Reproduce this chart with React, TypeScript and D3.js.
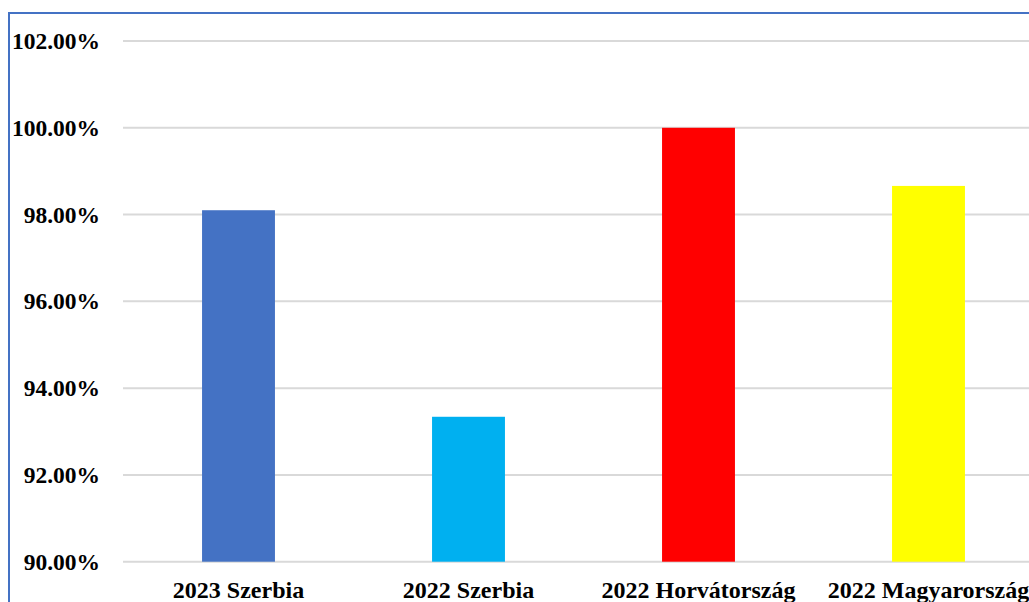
import React from "react";
import * as d3 from "d3";

const categories = ["2023 Szerbia", "2022 Szerbia", "2022 Horvátország", "2022 Magyarország"];
const values = [98.1, 93.34, 100.0, 98.66];
const barColors = ["#4472C4", "#00B0F0", "#FF0000", "#FFFF00"];
const yTicks = [90, 92, 94, 96, 98, 100, 102];

export default function App() {
  const W = 1029;
  const H = 602;
  const x = d3.scaleBand<string>().domain(categories).range([123.5, 1043.5]).paddingInner(0.683).paddingOuter(0.3415);
  const y = d3.scaleLinear().domain([90, 102]).range([561.7, 41]);
  const font = "'Liberation Serif', 'Times New Roman', serif";
  return (
    <svg width={W} height={H} style={{ position: "absolute", left: 0, top: 0 }}>
      <rect x={0} y={0} width={W} height={H} fill="#fff" />
      {yTicks.map((t) => (
        <g key={t}>
          <line x1={123} x2={W} y1={y(t)} y2={y(t)} stroke="#d9d9d9" strokeWidth={2} />
          <text x={100} y={y(t) + 8} textAnchor="end" fontFamily={font} fontWeight="bold" fontSize={23.5} fill="#000">
            {t.toFixed(2) + "%"}
          </text>
        </g>
      ))}
      {categories.map((c, i) => (
        <rect key={c} x={x(c)} y={y(values[i])} width={x.bandwidth()} height={y(90) - y(values[i])} fill={barColors[i]} />
      ))}
      {categories.map((c) => (
        <text key={c} x={(x(c) as number) + x.bandwidth() / 2} y={598} textAnchor="middle" fontFamily={font} fontWeight="bold" fontSize={24} fill="#000">
          {c}
        </text>
      ))}
      <line x1={9} x2={W} y1={13} y2={13} stroke="#4472C4" strokeWidth={2} />
      <line x1={9} x2={9} y1={12} y2={H} stroke="#4472C4" strokeWidth={2} />
    </svg>
  );
}
